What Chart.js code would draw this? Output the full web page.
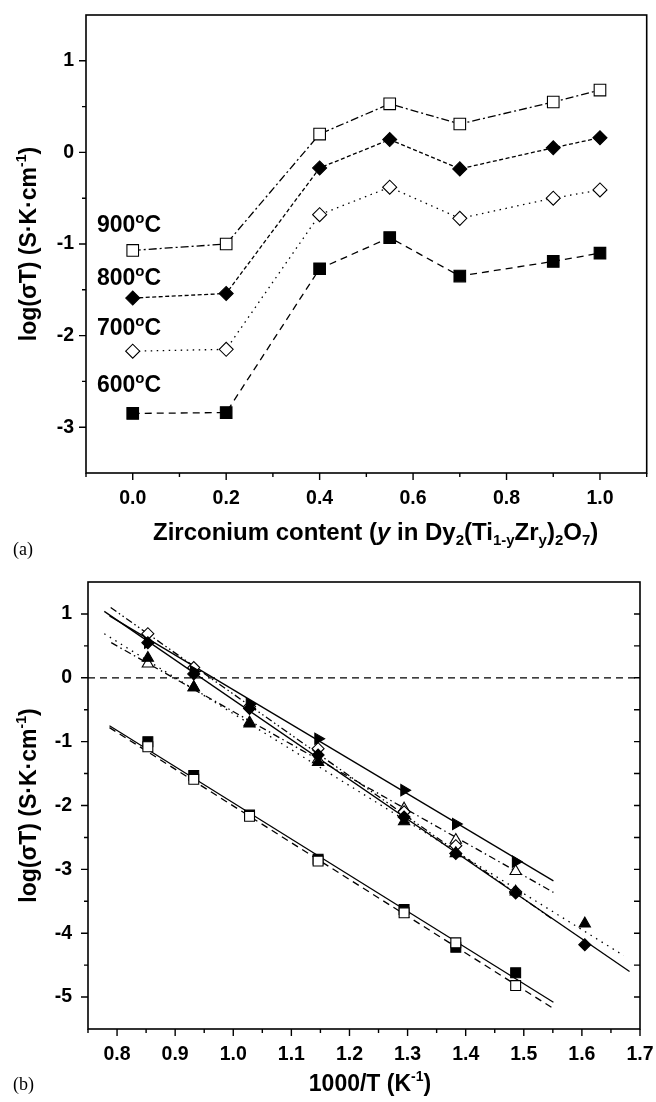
<!DOCTYPE html>
<html><head><meta charset="utf-8">
<script src="https://cdn.jsdelivr.net/npm/chart.js@4.4.0/dist/chart.umd.min.js"></script>
<style>
html,body{margin:0;padding:0;background:#fff;}
#wrap{position:relative;width:656px;height:1102px;overflow:hidden;}
#chartA{position:absolute;left:0;top:0;}
#chartB{position:absolute;left:0;top:560px;}
</style></head><body>
<div id="wrap">
<canvas id="chartA" width="656" height="560"></canvas>
<canvas id="chartB" width="656" height="542"></canvas>
</div>
<script>
// ---------- Panel (a) data ----------
const zrContent = [0.0, 0.2, 0.4, 0.55, 0.7, 0.9, 1.0];
const logST_900 = [-1.07, -1.00, 0.20, 0.53, 0.31, 0.55, 0.68];
const logST_800 = [-1.59, -1.54, -0.17, 0.14, -0.18, 0.05, 0.16];
const logST_700 = [-2.17, -2.15, -0.68, -0.38, -0.72, -0.50, -0.41];
const logST_600 = [-2.85, -2.84, -1.27, -0.93, -1.35, -1.19, -1.10];
const tempLabels = ['900', '800', '700', '600'];
const xTicksA = [0.0, 0.2, 0.4, 0.6, 0.8, 1.0];
const xMinorA = [-0.1, 0.1, 0.3, 0.5, 0.7, 0.9, 1.1];
const yTicksA = [-3, -2, -1, 0, 1];
const yMinorA = [-2.5, -1.5, -0.5, 0.5];

// ---------- Panel (b) data ----------
const invT = [0.853, 0.932, 1.028, 1.146, 1.294, 1.383, 1.486, 1.605];
const sqFilled = [-1.00, -1.53, -2.15, -2.84, -3.63, -4.22, -4.62];
const sqOpen = [-1.08, -1.59, -2.17, -2.87, -3.68, -4.15, -4.82];
const diaFilled = [0.55, 0.06, -0.48, -1.21, -2.18, -2.75, -3.37, -4.18];
const diaOpen = [0.69, 0.16, -0.45, -1.11, -2.10, -2.63, -3.35];
const triFilled = [0.31, -0.15, -0.72, -1.32, -2.25, -2.75, -3.35, -3.85];
const triOpen = [0.22, -0.15, -0.70, -1.28, -2.05, -2.54, -3.03];
const triRight = [0.55, 0.10, -0.41, -0.955, -1.76, -2.29, -2.88];
// fitted lines, end points: [x0, y0, x1, y1]
const fitSqFilled = [0.787, -0.75, 1.551, -5.08];
const fitSqOpen = [0.787, -0.78, 1.551, -5.18];
const fitDiaFilled = [0.778, 1.04, 1.682, -4.60];
const fitDiaOpen = [0.789, 1.10, 1.551, -3.79];
const fitTriFilled = [0.778, 0.69, 1.672, -4.35];
const fitTriOpen = [0.790, 0.55, 1.551, -3.36];
const fitTriRight = [0.787, 0.97, 1.551, -3.18];
const zeroLine = [0.75, 0, 1.70, 0];
const xTicksB = [0.8, 0.9, 1.0, 1.1, 1.2, 1.3, 1.4, 1.5, 1.6, 1.7];
const xMinorB = [0.75, 0.85, 0.95, 1.05, 1.15, 1.25, 1.35, 1.45, 1.55, 1.65];
const yTicksB = [-5, -4, -3, -2, -1, 0, 1];
const yMinorB = [-4.5, -3.5, -2.5, -1.5, -0.5, 0.5];

// ---------- helpers ----------
const FONT = '"Liberation Sans", Arial, sans-serif';
const pts = (xs, ys) => ys.map((y, i) => ({x: xs[i], y}));
const seg = a => [{x: a[0], y: a[1]}, {x: a[2], y: a[3]}];

function drawRich(ctx, segs, x, y, align, rot) {
  ctx.save();
  ctx.translate(x, y);
  if (rot) ctx.rotate(rot);
  let w = 0;
  segs.forEach(s => {
    ctx.font = (s.style || 'bold') + ' ' + s.size + 'px ' + (s.family || FONT);
    s.w = ctx.measureText(s.t).width; w += s.w;
  });
  let cx = align === 'center' ? -w / 2 : (align === 'right' ? -w : 0);
  ctx.textAlign = 'left'; ctx.textBaseline = 'alphabetic'; ctx.fillStyle = '#000';
  segs.forEach(s => {
    ctx.font = (s.style || 'bold') + ' ' + s.size + 'px ' + (s.family || FONT);
    ctx.fillText(s.t, cx, s.dy || 0);
    cx += s.w;
  });
  ctx.restore();
}

const axesPlugin = {
  id: 'axesDraw',
  afterDatasetsDraw(chart, args, o) {
    const ctx = chart.ctx, ca = chart.chartArea;
    const xs = chart.scales.x, ys = chart.scales.y;
    ctx.save();
    ctx.strokeStyle = '#000';
    ctx.lineWidth = 1.6;
    ctx.strokeRect(ca.left, ca.top, ca.right - ca.left, ca.bottom - ca.top);
    ctx.lineWidth = 1.4;
    ctx.beginPath();
    o.xMajor.forEach(v => { const p = xs.getPixelForValue(v); ctx.moveTo(p, ca.bottom); ctx.lineTo(p, ca.bottom + 7); });
    o.xMinor.forEach(v => { const p = xs.getPixelForValue(v); ctx.moveTo(p, ca.bottom); ctx.lineTo(p, ca.bottom + 4); });
    o.yMajor.forEach(v => { const p = ys.getPixelForValue(v); ctx.moveTo(ca.left, p); ctx.lineTo(ca.left - 7, p); });
    o.yMinor.forEach(v => { const p = ys.getPixelForValue(v); ctx.moveTo(ca.left, p); ctx.lineTo(ca.left - 4, p); });
    if (o.rightTicks) {
      o.yMajor.concat(o.yMinor).forEach(v => { const p = ys.getPixelForValue(v); ctx.moveTo(ca.right, p); ctx.lineTo(ca.right - 6, p); });
    }
    ctx.stroke();
    // tick labels
    ctx.fillStyle = '#000';
    ctx.font = 'bold 19.5px ' + FONT;
    ctx.textAlign = 'center'; ctx.textBaseline = 'middle';
    o.xMajor.forEach(v => ctx.fillText(v.toFixed(1), xs.getPixelForValue(v), ca.bottom + 26));
    ctx.textAlign = 'right';
    o.yMajor.forEach(v => ctx.fillText(String(v), ca.left - o.yLabGap, ys.getPixelForValue(v)));
    // y title
    const ym = (ca.top + ca.bottom) / 2;
    drawRich(ctx, [
      {t: 'log(σT) (S·K·cm', size: 23},
      {t: '-1', size: 14, dy: -10},
      {t: ')', size: 23}
    ], 36, ym, 'center', -Math.PI / 2);
    // x title
    drawRich(ctx, o.xTitle, o.xTitleX, ca.bottom + o.xTitleDy, o.xTitleAlign, 0);
    // panel letter
    drawRich(ctx, [{t: o.letter, size: 18, style: 'normal', family: '"Liberation Serif", "Times New Roman", serif'}], 13, ca.bottom + o.letterDy, 'left', 0);
    // temperature labels
    if (o.temps) {
      o.temps.forEach((lab, i) => {
        drawRich(ctx, [
          {t: lab, size: 23},
          {t: 'o', size: 15, dy: -9},
          {t: 'C', size: 23}
        ], o.tempX, ys.getPixelForValue(o.tempY[i]) + 8.5, 'left', 0);
      });
    }
    ctx.restore();
  }
};

// ---------- Chart (a) ----------
const lineBase = {borderColor: '#000', borderWidth: 1.3, fill: false, tension: 0,
  pointBorderColor: '#000', pointBorderWidth: 1.1, pointHoverRadius: 0};
new Chart(document.getElementById('chartA'), {
  type: 'line',
  data: {datasets: [
    Object.assign({}, lineBase, {label: '900', data: pts(zrContent, logST_900), borderDash: [8, 3, 2, 3],
      pointStyle: 'rect', pointRadius: 8.2, pointBackgroundColor: '#fff', order: 1}),
    Object.assign({}, lineBase, {label: '800', data: pts(zrContent, logST_800), borderDash: [4, 2.5],
      pointStyle: 'rectRot', pointRadius: 7, pointBackgroundColor: '#000', order: 2}),
    Object.assign({}, lineBase, {label: '700', data: pts(zrContent, logST_700), borderDash: [1.5, 4.5],
      pointStyle: 'rectRot', pointRadius: 7, pointBackgroundColor: '#fff', order: 3}),
    Object.assign({}, lineBase, {label: '600', data: pts(zrContent, logST_600), borderDash: [7, 5],
      pointStyle: 'rect', pointRadius: 8.2, pointBackgroundColor: '#000', order: 4})
  ]},
  options: {
    responsive: false, animation: false, devicePixelRatio: 1,
    layout: {padding: {left: 86, right: 4, top: 15, bottom: 87}},
    scales: {
      x: {type: 'linear', min: -0.1, max: 1.1, display: false},
      y: {type: 'linear', min: -3.5, max: 1.5, display: false}
    },
    plugins: {
      legend: {display: false}, tooltip: {enabled: false},
      axesDraw: {
        xMajor: xTicksA, xMinor: xMinorA, yMajor: yTicksA, yMinor: yMinorA, rightTicks: false,
        yLabGap: 12,
        xTitleX: 153, xTitleAlign: 'left', xTitleDy: 67, letter: '(a)', letterDy: 82,
        xTitle: [
          {t: 'Zirconium content (', size: 24},
          {t: 'y', size: 24, style: 'italic bold'},
          {t: ' in Dy', size: 24},
          {t: '2', size: 15, dy: 5},
          {t: '(Ti', size: 24},
          {t: '1-y', size: 15, dy: 5},
          {t: 'Zr', size: 24},
          {t: 'y', size: 15, dy: 5},
          {t: ')', size: 24},
          {t: '2', size: 15, dy: 5},
          {t: 'O', size: 24},
          {t: '7', size: 15, dy: 5},
          {t: ')', size: 24}
        ],
        temps: tempLabels, tempX: 97, tempY: [-0.78, -1.355, -1.905, -2.52]
      }
    }
  },
  plugins: [axesPlugin]
});

// ---------- Chart (b) ----------
const mk = (label, xs, ys, style, radius, fillC, order, rot) => ({
  label, data: pts(xs, ys), showLine: false, pointStyle: style, pointRadius: radius,
  pointRotation: rot || 0, pointBackgroundColor: fillC, pointBorderColor: '#000',
  pointBorderWidth: 1.1, pointHoverRadius: 0, order
});
const fl = (label, a, dash) => ({
  label, data: seg(a), showLine: true, borderColor: '#000', borderWidth: 1.3,
  borderDash: dash, pointRadius: 0, fill: false, tension: 0, order: 100
});
new Chart(document.getElementById('chartB'), {
  type: 'line',
  data: {datasets: [
    fl('zero', zeroLine, [7, 5]),
    fl('fit sq filled', fitSqFilled, []),
    fl('fit sq open', fitSqOpen, [7, 5]),
    fl('fit dia filled', fitDiaFilled, []),
    fl('fit dia open', fitDiaOpen, [7, 3, 1.5, 3, 1.5, 3]),
    fl('fit tri filled', fitTriFilled, [1.5, 5]),
    fl('fit tri open', fitTriOpen, [7, 3.5, 1.5, 3.5]),
    fl('fit tri right', fitTriRight, []),
    mk('sq open', invT, sqOpen, 'rect', 7, '#fff', 1),
    mk('sq filled', invT, sqFilled, 'rect', 7, '#000', 2),
    mk('dia filled', invT, diaFilled, 'rectRot', 6, '#000', 3),
    mk('tri filled', invT, triFilled, 'triangle', 6.5, '#000', 4),
    mk('tri right', invT, triRight, 'triangle', 6.5, '#000', 5, 90),
    mk('dia open', invT, diaOpen, 'rectRot', 6, '#fff', 6),
    mk('tri open', invT, triOpen, 'triangle', 6.5, '#fff', 7)
  ]},
  options: {
    responsive: false, animation: false, devicePixelRatio: 1,
    layout: {padding: {left: 88, right: 16, top: 22, bottom: 73}},
    scales: {
      x: {type: 'linear', min: 0.75, max: 1.7, display: false},
      y: {type: 'linear', min: -5.5, max: 1.5, display: false}
    },
    plugins: {
      legend: {display: false}, tooltip: {enabled: false},
      axesDraw: {
        xMajor: xTicksB, xMinor: xMinorB, yMajor: yTicksB, yMinor: yMinorB, rightTicks: true,
        yLabGap: 16,
        xTitleX: 370, xTitleAlign: 'center', xTitleDy: 62, letter: '(b)', letterDy: 61,
        xTitle: [
          {t: '1000/T (K', size: 23},
          {t: '-1', size: 14, dy: -10},
          {t: ')', size: 23}
        ]
      }
    }
  },
  plugins: [axesPlugin]
});
</script>
</body></html>
